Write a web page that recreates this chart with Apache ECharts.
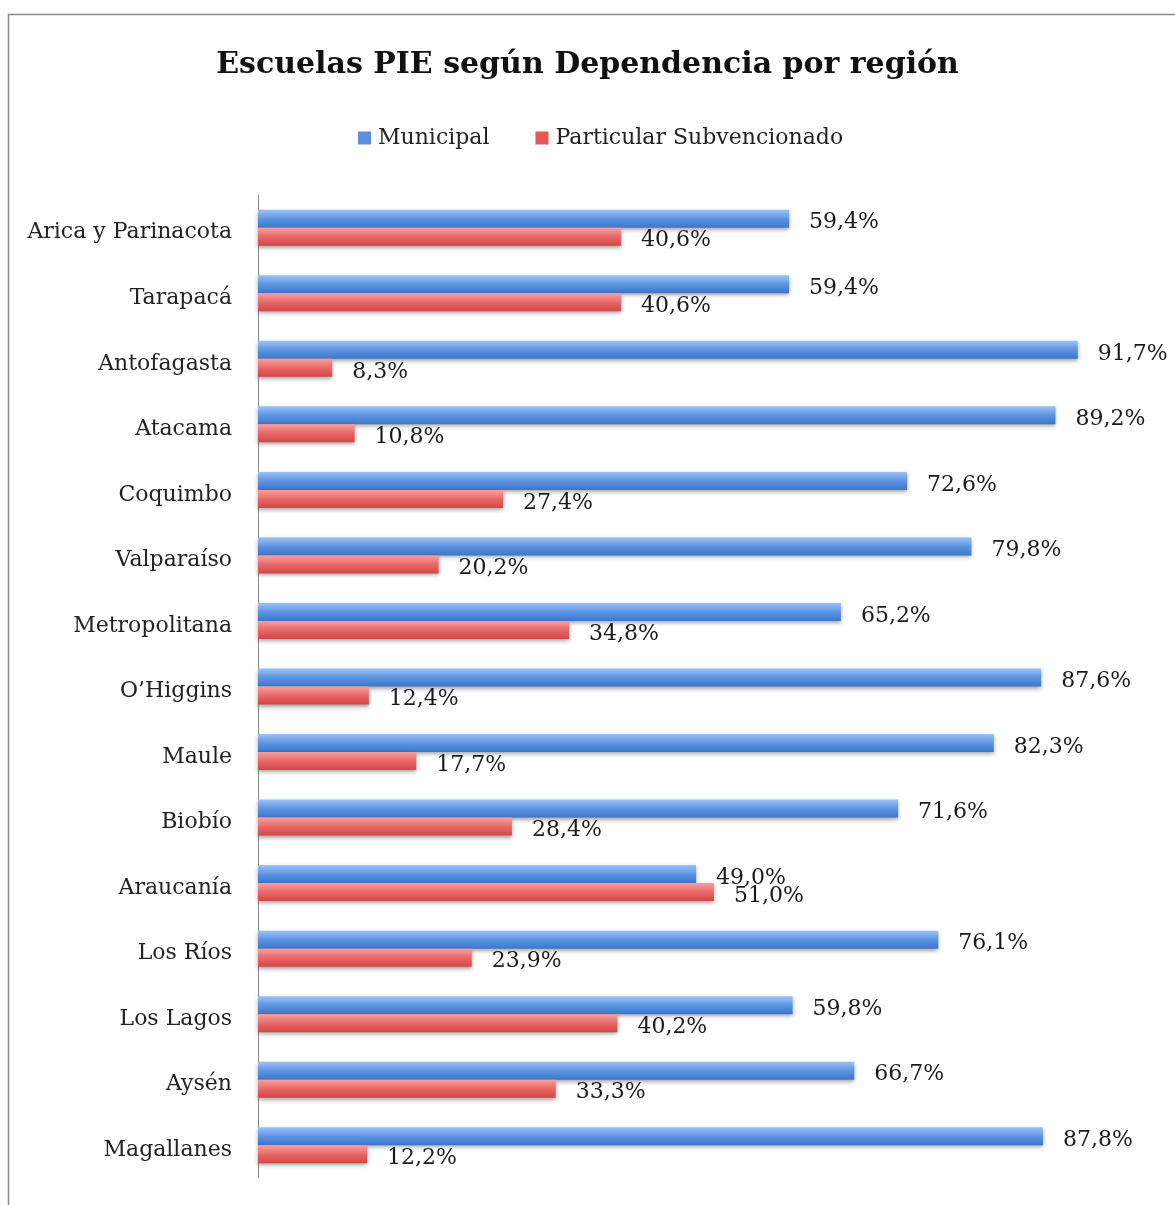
<!DOCTYPE html>
<html><head><meta charset="utf-8">
<script src="https://cdn.jsdelivr.net/npm/echarts@6/dist/echarts.min.js"></script>
<style>html,body{margin:0;padding:0;background:#fff}#c{width:1175px;height:1205px}</style>
</head><body><div id="c"></div>
<script>
const categories = ["Arica y Parinacota","Tarapacá","Antofagasta","Atacama","Coquimbo","Valparaíso","Metropolitana","O’Higgins","Maule","Biobío","Araucanía","Los Ríos","Los Lagos","Aysén","Magallanes"];
const municipal = [59.4,59.4,91.7,89.2,72.6,79.8,65.2,87.6,82.3,71.6,49.0,76.1,59.8,66.7,87.8];
const particular = [40.6,40.6,8.3,10.8,27.4,20.2,34.8,12.4,17.7,28.4,51.0,23.9,40.2,33.3,12.2];
const seriesNames = ["Municipal","Particular Subvencionado"];

const FONT = '"DejaVu Serif", serif';
const chart = echarts.init(document.getElementById('c'));
const fmt = p => p.value.toFixed(1).replace('.', ',') + '%';
const grad = (a,b,c) => new echarts.graphic.LinearGradient(0,0,0,1,[{offset:0,color:a},{offset:0.5,color:b},{offset:1,color:c}]);
chart.setOption({
  animation:false,
  graphic:[{type:'rect',left:6,top:12,shape:{width:1200,height:1220},style:{fill:'none',stroke:'#8a8a8a',lineWidth:1.5},silent:true}],
  title:{text:'Escuelas PIE según Dependencia por región',left:'center',top:45,
    textStyle:{fontFamily:FONT,fontSize:30,fontWeight:'bold',color:'#111'}},
  legend:{top:122,left:353,icon:'rect',itemWidth:13,itemHeight:13,itemGap:46,itemStyle:{borderWidth:0},
    textStyle:{fontFamily:FONT,fontSize:22,color:'#222',padding:[0,0,0,2]},
    data:[{name:seriesNames[0],itemStyle:{color:'#5b8fdc'}},{name:seriesNames[1],itemStyle:{color:'#e05858'}}]},
  grid:{left:258,right:23,top:195,height:983,containLabel:false},
  xAxis:{type:'value',min:0,max:100,show:false},
  yAxis:{type:'category',data:categories,inverse:true,
    axisLine:{lineStyle:{color:'#888',width:1}},axisTick:{show:false},
    axisLabel:{fontFamily:FONT,fontSize:22,color:'#222',margin:26,
      formatter: v => '{a|' + v + '}',
      rich:{a:{fontFamily:FONT,fontSize:22,color:'#222',padding:[10,0,0,0]}}}},
  series:[
    {name:seriesNames[0],type:'bar',data:municipal,barWidth:18,barGap:'0%',
      itemStyle:{color:grad('#9cc2f6','#5e95e2','#3b76cc'),shadowColor:'rgba(0,0,0,0.35)',shadowBlur:4,shadowOffsetY:2},
      label:{show:true,position:'right',distance:20,offset:[0,4],formatter:fmt,fontFamily:FONT,fontSize:22,color:'#1a1a1a'}},
    {name:seriesNames[1],type:'bar',data:particular,barWidth:18,
      itemStyle:{color:grad('#f9a0a0','#e86868','#d54545'),shadowColor:'rgba(0,0,0,0.35)',shadowBlur:4,shadowOffsetY:2},
      label:{show:true,position:'right',distance:20,offset:[0,4],formatter:fmt,fontFamily:FONT,fontSize:22,color:'#1a1a1a'}}
  ]
});
</script></body></html>
